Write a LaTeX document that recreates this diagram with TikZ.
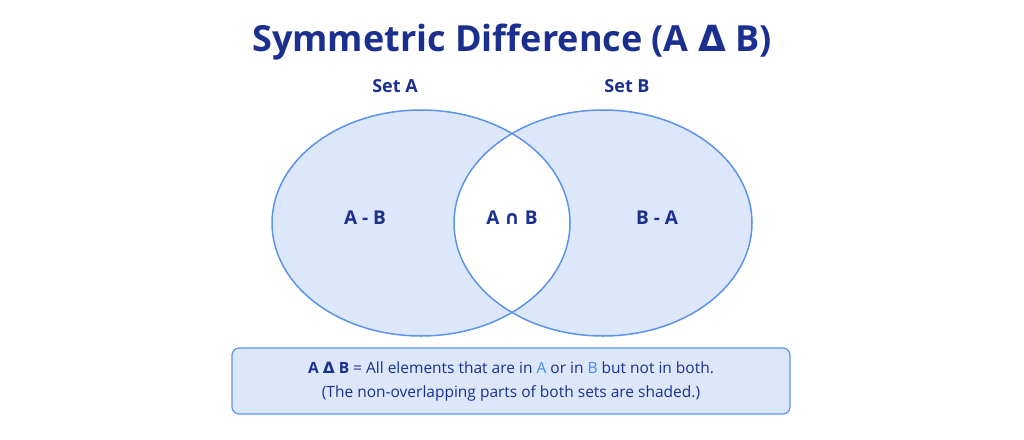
\documentclass[tikz,border=0pt]{standalone}
\usepackage{fontspec}
\setmainfont{Open Sans}
\newfontfamily\symfont{DejaVu Sans}
\usetikzlibrary{positioning}
\definecolor{navy}{HTML}{1B2F8F}
\definecolor{setline}{HTML}{5B93EE}
\definecolor{setfill}{HTML}{DDE7FB}
\definecolor{hilite}{HTML}{3C8BEF}
\tikzset{
  setlabel/.style={font=\bfseries\fontsize{18}{20}\selectfont, text=navy},
  region/.style={font=\bfseries\fontsize{19}{22}\selectfont, text=navy},
  notebox/.style={draw=setline, line width=1.2pt, fill=setfill, rounded corners=7pt,
    minimum width=558pt, minimum height=66pt, align=center, text=navy,
    font=\fontsize{15.5}{24}\selectfont}
}
\begin{document}
\begin{tikzpicture}[x=1pt,y=-1pt]
\useasboundingbox (0,0) rectangle (1024,439);
% shaded parts
\fill[setfill] (421,223) ellipse [x radius=149, y radius=113];
\fill[setfill] (603,223) ellipse [x radius=149, y radius=113];
\begin{scope}
  \clip (421,223) ellipse [x radius=149, y radius=113];
  \fill[white] (603,223) ellipse [x radius=149, y radius=113];
\end{scope}
\draw[setline, line width=1.5pt] (421,223) ellipse [x radius=149, y radius=113];
\draw[setline, line width=1.5pt] (603,223) ellipse [x radius=149, y radius=113];
% texts
\node (title) at (512,42) [font=\bfseries\fontsize{36}{40}\selectfont, text=navy]
  {Symmetric Difference (A {\symfont Δ} B)};
\node[setlabel] (setA) at (395,86) {Set A};
\node[setlabel] (setB) at (627,86) {Set B};
\node[region] (AminusB) at (365,218) {A - B};
\node[region] (AcapB) at (512,218) {A {\symfont ∩} B};
\node[region] (BminusA) at (657,218) {B - A};
\node[notebox] (note) at (511,381)
  {\textbf{A {\symfont Δ} B} =\ All elements that are in \textcolor{hilite}{A} or in \textcolor{hilite}{B} but not in both.\\
   (The non-overlapping parts of both sets are shaded.)};
\end{tikzpicture}
\end{document}
